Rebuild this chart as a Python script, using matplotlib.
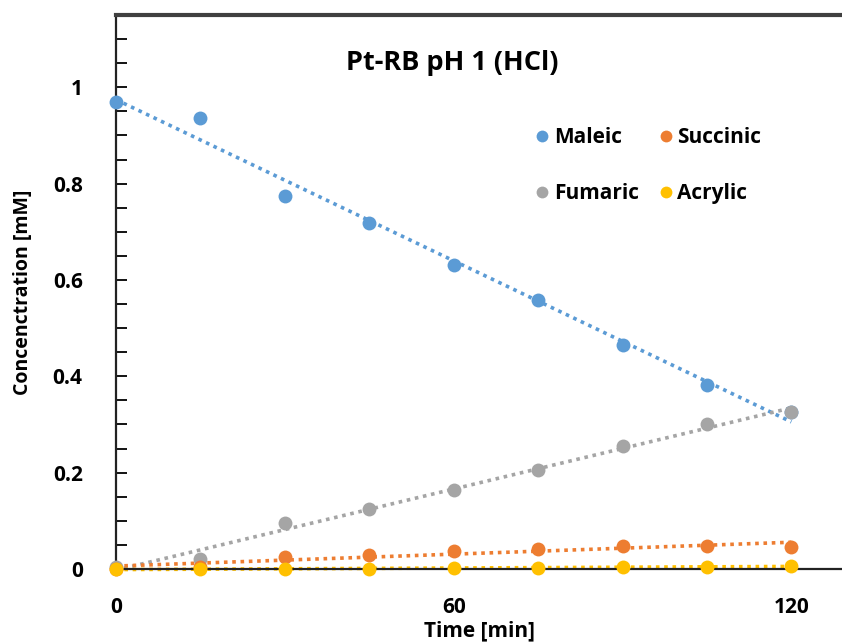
import numpy as np
import matplotlib
matplotlib.use("Agg")
import matplotlib.pyplot as plt
from matplotlib.ticker import MultipleLocator, FixedLocator

# ── data ──
time_min = [0, 15, 30, 45, 60, 75, 90, 105, 120]
maleic   = [0.969, 0.936, 0.774, 0.718, 0.631, 0.559, 0.464, 0.382, 0.325]
succinic = [0.000, 0.004, 0.025, 0.028, 0.038, 0.042, 0.047, 0.047, 0.046]
fumaric  = [0.004, 0.020, 0.095, 0.125, 0.164, 0.205, 0.255, 0.301, 0.325]
acrylic  = [0.000, 0.000, 0.000, 0.000, 0.001, 0.002, 0.004, 0.005, 0.006]

# legend is filled column by column, so this order gives
# rows "Maleic  Succinic" / "Fumaric  Acrylic"
series = [
    ("Maleic",   maleic,   "#5B9BD5"),
    ("Fumaric",  fumaric,  "#A5A5A5"),
    ("Succinic", succinic, "#ED7D31"),
    ("Acrylic",  acrylic,  "#FFC000"),
]

plt.rcParams["font.family"] = ["Open Sans", "DejaVu Sans"]
plt.rcParams["font.weight"] = "bold"

fig = plt.figure(figsize=(8.42, 6.44), dpi=100)
ax = fig.add_axes([0.1378, 0.1165, 0.8622, 0.8602])

x = np.array(time_min)
for name, y, col in series:
    # linear trendline (like the spreadsheet's)
    k, b = np.polyfit(x, y, 1)
    ax.plot([x[0], x[-1]], [b + k * x[0], b + k * x[-1]], ls=(0, (1, 1.3)),
            color=col, lw=2.6, zorder=2, clip_on=False)
    ax.plot(x, y, "o", color=col, ms=10, mec="none", label=name,
            zorder=3, clip_on=False)

ax.set_xlim(0, 129)
ax.set_ylim(0, 1.15)
ax.xaxis.set_major_locator(FixedLocator([0, 60, 120]))
ax.yaxis.set_major_locator(FixedLocator([0, 0.2, 0.4, 0.6, 0.8, 1.0]))
ax.yaxis.set_minor_locator(MultipleLocator(0.05))
ax.set_yticklabels(["0", "0.2", "0.4", "0.6", "0.8", "1"])
ax.tick_params(axis="x", length=0, pad=20, labelsize=15)
ax.tick_params(axis="y", which="major", direction="in", length=8, width=1.3,
               pad=24, labelsize=15)
ax.tick_params(axis="y", which="minor", direction="in", length=8, width=1.3)

for s in ["left", "bottom"]:
    ax.spines[s].set_linewidth(1.6)
    ax.spines[s].set_color("#222222")
ax.spines["top"].set_linewidth(3)
ax.spines["top"].set_color("#404040")
ax.spines["right"].set_visible(False)

ax.set_xlabel("Time [min]", fontsize=15, fontweight="bold")
ax.set_ylabel("Concenctration [mM]", fontsize=14, fontweight="bold")
ax.xaxis.set_label_coords(0.5, -0.092)
ax.yaxis.set_label_coords(-0.114, 0.5)
ax.text(0.463, 0.913, "Pt-RB pH 1 (HCl)", transform=ax.transAxes,
        ha="center", va="center", fontsize=19.5, fontweight="bold")

leg = ax.legend(ncol=2, loc="upper left", bbox_to_anchor=(0.573, 0.797),
                frameon=False, fontsize=15, handletextpad=0.05,
                columnspacing=0.8, labelspacing=1.65, markerscale=0.85,
                handlelength=1.0, borderaxespad=0, borderpad=0)

fig.savefig("out.png", dpi=100)
